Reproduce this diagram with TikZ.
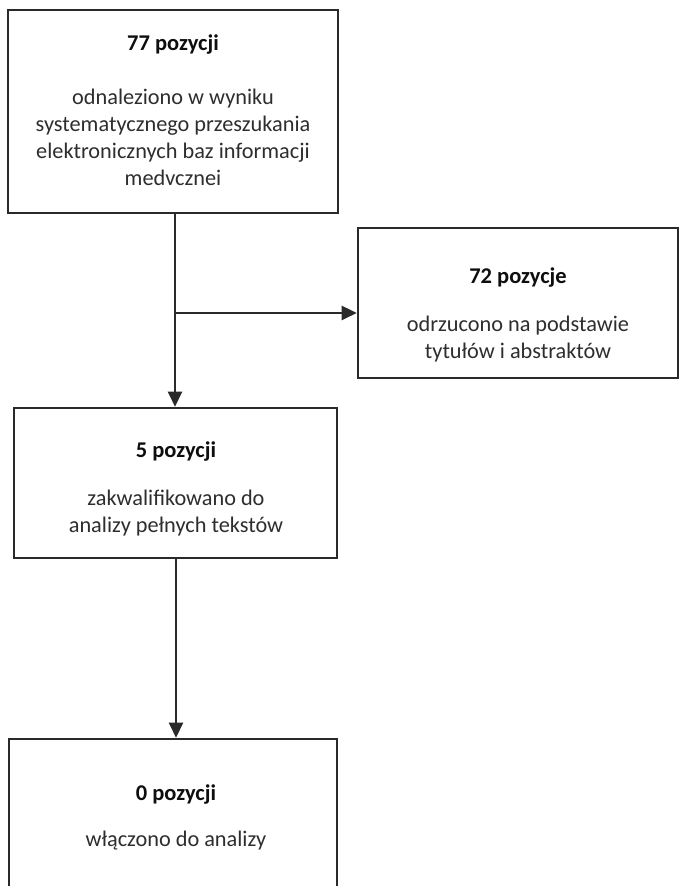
\documentclass[tikz,border=0pt]{standalone}
\usepackage{fontspec}
\setmainfont{Carlito}
\usetikzlibrary{arrows.meta}
\definecolor{linec}{HTML}{2A2A2A}
\definecolor{bodyc}{HTML}{2E2E2E}
\definecolor{titlec}{HTML}{0E0E0E}
\tikzset{
  box/.style={draw=linec, line width=2.6pt, rectangle, inner sep=0pt},
  ttl/.style={font=\fontsize{22.5}{27}\selectfont\bfseries, text=titlec, inner sep=0pt},
  bdy/.style={font=\fontsize{22.3}{27}\selectfont, text=bodyc, align=center, inner sep=0pt},
  arr/.style={draw=linec, line width=2.6pt, -{Triangle[length=15pt,width=14pt]}}
}
\begin{document}
\begin{tikzpicture}[x=1pt,y=1pt]
\useasboundingbox (0,0) rectangle (679,886);
\clip (0,0) rectangle (679,886);
\fill[white] (0,0) rectangle (679,886);
% boxes
\node[box, minimum width=330pt, minimum height=203pt] (b1) at (173,774.5) {};
\node[box, minimum width=320pt, minimum height=150pt] (b3) at (518,583) {};
\node[box, minimum width=323pt, minimum height=150pt] (b2) at (175.5,403) {};
\node[box, minimum width=328pt, minimum height=200pt] (b4) at (173,47) {};
% texts
\node[ttl] (t1) at (173,841) {77 pozycji};
\node[bdy] (d1) at (173,749) {odnaleziono w wyniku\\systematycznego przeszukania\\elektronicznych baz informacji\\medvcznei};
\node[ttl] (t3) at (518,608) {72 pozycje};
\node[bdy] (d3) at (518,547) {odrzucono na podstawie\\tytułów i abstraktów};
\node[ttl] (t2) at (176,434) {5 pozycji};
\node[bdy] (d2) at (176,372.5) {zakwalifikowano do\\analizy pełnych tekstów};
\node[ttl] (t4) at (176,91) {0 pozycji};
\node[bdy] (d4) at (176,45) {włączono do analizy};
% connectors
\coordinate (br) at (175,573);
\coordinate (vx) at (176,0);
\draw[arr] (b1.south -| br) -- (b2.north -| br);
\draw[arr] (br) -- (b3.west |- br);
\draw[arr] (b2.south -| vx) -- (b4.north -| vx);
\end{tikzpicture}
\end{document}
